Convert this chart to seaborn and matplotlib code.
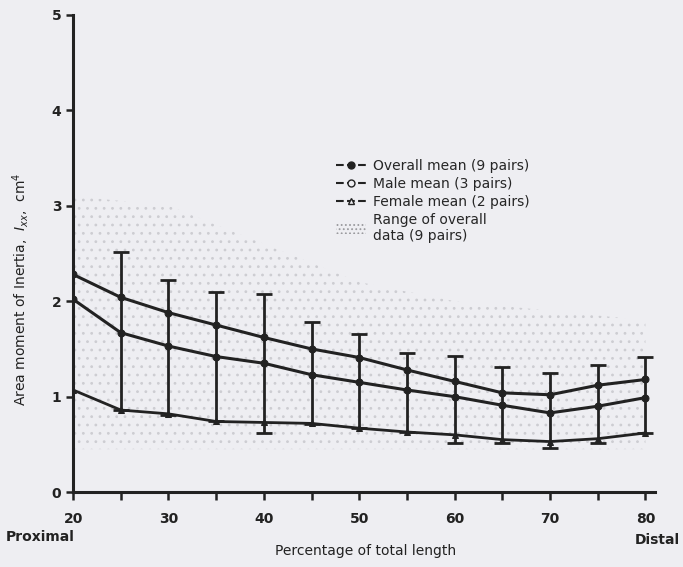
import matplotlib.pyplot as plt
import seaborn as sns
import pandas as pd
from matplotlib.lines import Line2D
from matplotlib.patches import Patch

# percentage of total length
position = [20, 25, 30, 35, 40, 45, 50, 55, 60, 65, 70, 75, 80]
overall_mean = [2.28, 2.04, 1.88, 1.75, 1.62, 1.50, 1.41, 1.28, 1.16, 1.04, 1.02, 1.12, 1.18]
male_mean = [2.02, 1.67, 1.53, 1.42, 1.35, 1.23, 1.15, 1.07, 1.00, 0.91, 0.83, 0.90, 0.99]
female_mean = [1.07, 0.86, 0.82, 0.74, 0.73, 0.72, 0.67, 0.63, 0.60, 0.55, 0.53, 0.56, 0.62]

# error bars on overall mean (x = 25..80)
err_pos = [25, 30, 35, 40, 45, 50, 55, 60, 65, 70, 75, 80]
err_upper = [2.52, 2.22, 2.10, 2.08, 1.78, 1.66, 1.46, 1.43, 1.31, 1.25, 1.33, 1.42]
err_lower = [0.86, 0.81, 0.74, 0.62, 0.71, 0.67, 0.63, 0.52, 0.52, 0.46, 0.52, 0.62]

# rough stippled range of overall data
range_pos = [20, 30, 40, 50, 60, 70, 80]
range_upper = [3.1, 3.0, 2.6, 2.2, 2.0, 1.9, 1.8]
range_lower = [0.45, 0.45, 0.45, 0.45, 0.45, 0.45, 0.45]

x_ticks = [20, 30, 40, 50, 60, 70, 80]
x_labels = ["20", "30", "40", "50", "60", "70", "80"]
y_ticks = [0, 1, 2, 3, 4, 5]

sns.set_theme(style="ticks")
plt.rcParams["font.family"] = ["DejaVu Sans"]
plt.rcParams["hatch.linewidth"] = 0.8
bg = "#eeeef2"
ink = "#222222"

fig = plt.figure(figsize=(6.83, 5.67), dpi=100, facecolor=bg)
ax = fig.add_axes([0.107, 0.132, 0.852, 0.842])
ax.set_facecolor(bg)

# range of overall data (stipple)
ax.fill_between(range_pos, range_lower, range_upper, facecolor="none",
                edgecolor="#cdcdd2", hatch="..", linewidth=0)

df = pd.DataFrame({"x": position, "overall": overall_mean,
                   "male": male_mean, "female": female_mean})

sns.lineplot(data=df, x="x", y="overall", ax=ax, color=ink, lw=2.2,
             marker="o", markersize=5, markerfacecolor=ink, markeredgecolor=ink)
sns.lineplot(data=df, x="x", y="male", ax=ax, color=ink, lw=2.2,
             marker="o", markersize=5, markerfacecolor=ink, markeredgecolor=ink)
sns.lineplot(data=df, x="x", y="female", ax=ax, color=ink, lw=2.0,
             marker="^", markersize=4, markerfacecolor=ink, markeredgecolor=ink)

mid = [(u + l) / 2 for u, l in zip(err_upper, err_lower)]
half = [(u - l) / 2 for u, l in zip(err_upper, err_lower)]
ax.errorbar(err_pos, mid, yerr=half, fmt="none", ecolor=ink,
            elinewidth=2.0, capsize=6, capthick=2.0)

ax.set_xlim(20, 81)
ax.set_ylim(0, 5)
ax.set_xticks(x_ticks)
ax.set_xticklabels(x_labels)
ax.set_xticks(range(25, 81, 10), minor=True)
ax.set_yticks(y_ticks)
ax.tick_params(axis="both", which="both", colors=ink, labelsize=10,
               width=1.8, direction="out")
ax.tick_params(axis="x", which="major", length=6, pad=8)
ax.tick_params(axis="x", which="minor", length=6)
ax.tick_params(axis="y", length=5)
for lab in ax.get_xticklabels() + ax.get_yticklabels():
    lab.set_fontweight("bold")
sns.despine(ax=ax)
for s in ["left", "bottom"]:
    ax.spines[s].set_linewidth(2.2)
    ax.spines[s].set_color(ink)

ax.set_xlabel("")
ax.set_ylabel("")
fig.text(0.535, 0.028, "Percentage of total length", ha="center", va="center",
         fontsize=10, color=ink)
fig.text(0.008, 0.053, "Proximal", ha="left", va="center", fontsize=10,
         color=ink, fontweight="bold")
fig.text(0.995, 0.048, "Distal", ha="right", va="center", fontsize=10,
         color=ink, fontweight="bold")
fig.text(0.03, 0.49, r"Area moment of Inertia,  $I_{xx}$,  cm$^4$", rotation=90,
         ha="center", va="center", fontsize=10, color=ink)

handles = [
    Line2D([], [], color=ink, ls="--", marker="o", markersize=5, lw=1.5),
    Line2D([], [], color=ink, ls="--", marker="o", markersize=5,
           markerfacecolor=bg, lw=1.5),
    Line2D([], [], color=ink, ls="--", marker="^", markersize=5,
           markerfacecolor=bg, lw=1.5),
    Patch(facecolor="none", edgecolor="#9a9a9e", hatch="....", linewidth=0),
]
labels = ["Overall mean (9 pairs)", "Male mean (3 pairs)",
          "Female mean (2 pairs)", "Range of overall\ndata (9 pairs)"]
ax.legend(handles, labels, loc="upper left", bbox_to_anchor=(0.43, 0.725),
          frameon=False, fontsize=10, handlelength=2.2, labelspacing=0.3,
          handletextpad=0.5)

fig.savefig("out.png", dpi=100, facecolor=bg)
